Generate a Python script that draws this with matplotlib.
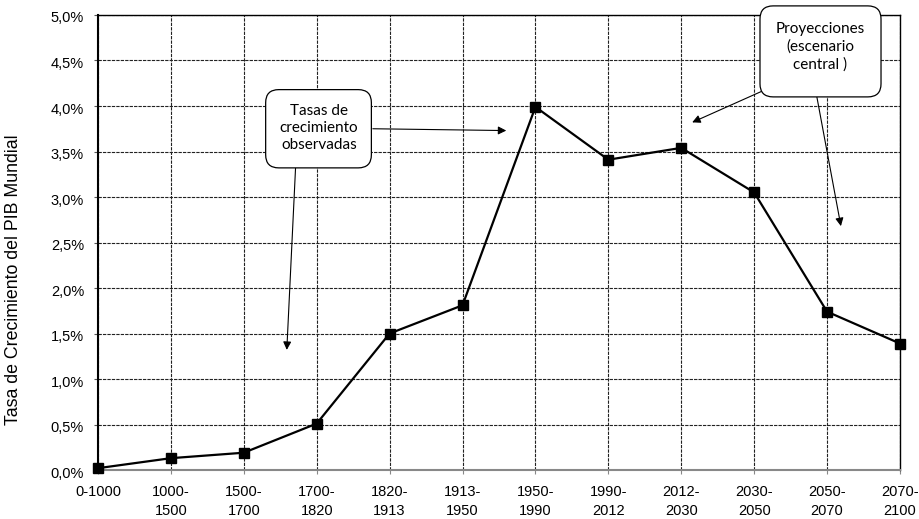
import numpy as np
import matplotlib.pyplot as plt
import matplotlib.transforms as mtransforms
from matplotlib.patches import FancyBboxPatch
from matplotlib.ticker import FuncFormatter

periodos = ['0-1000', '1000-\n1500', '1500-\n1700', '1700-\n1820', '1820-\n1913',
            '1913-\n1950', '1950-\n1990', '1990-\n2012', '2012-\n2030',
            '2030-\n2050', '2050-\n2070', '2070-\n2100']
crecimiento = [0.02, 0.13, 0.19, 0.51, 1.50, 1.81, 3.99, 3.41, 3.54, 3.05, 1.74, 1.39]

plt.rcParams['font.family'] = ['Liberation Sans', 'DejaVu Sans']

fig = plt.figure(figsize=(9.19, 5.19), dpi=100)
ax = fig.add_axes([0.1066, 0.0944, 0.8727, 0.8767])

x = np.arange(len(periodos))
ax.plot(x, crecimiento, color='black', lw=1.6, marker='s', ms=6.8,
        mfc='black', mec='black', zorder=5, clip_on=False)

ax.set_xlim(0, len(periodos) - 1)
ax.set_ylim(0, 5.0)
ax.set_yticks(np.arange(0, 5.01, 0.5))
ax.yaxis.set_major_formatter(FuncFormatter(lambda v, p: f'{v:.1f}%'.replace('.', ',')))
ax.set_xticks(x)
ax.set_xticklabels(periodos, fontsize=10.5, linespacing=1.4)
ax.tick_params(axis='y', labelsize=10.5, length=3, width=0.8, color='#555555', pad=7)
ax.tick_params(axis='x', length=3, width=0.8, color='#888888', pad=8)

# etiquetas del eje y un poco más abajo
desplaza = mtransforms.ScaledTranslation(0, -2 / 100, fig.dpi_scale_trans)
for etiqueta in ax.get_yticklabels():
    etiqueta.set_transform(etiqueta.get_transform() + desplaza)

ax.grid(True, color='#222222', lw=0.8, linestyle=(0, (3, 1)))
ax.set_axisbelow(True)

ax.spines['left'].set_linewidth(1.5)
ax.spines['left'].set_color('black')
ax.spines['bottom'].set_linewidth(1.5)
ax.spines['bottom'].set_color('#888888')
ax.spines['top'].set_linewidth(1.0)
ax.spines['right'].set_linewidth(1.0)

fig.text(14 / 919, 1 - 280 / 519, 'Tasa de Crecimiento del PIB Mundial',
         rotation=90, ha='center', va='center', fontsize=12.8)

# recuadros redondeados con texto
def recuadro(x0, x1, y0, y1, texto, cx, cy):
    caja = FancyBboxPatch((x0, y0), x1 - x0, y1 - y0,
                          boxstyle='round,pad=0,rounding_size=0.18',
                          mutation_aspect=0.80, fc='white', ec='black', lw=0.9,
                          zorder=6, clip_on=False)
    ax.add_patch(caja)
    ax.text(cx, cy, texto, ha='center', va='center', fontsize=11,
            family='Lato', linespacing=1.3, zorder=7, clip_on=False)

recuadro(2.30, 3.75, 3.32, 4.18, 'Tasas de\ncrecimiento\nobservadas', 3.03, 3.76)
recuadro(9.08, 10.74, 4.10, 5.10, 'Proyecciones\n(escenario\ncentral )', 9.91, 4.65)

flecha = dict(arrowstyle='-|>', color='black', lw=0.8, mutation_scale=12,
              shrinkA=0, shrinkB=0)
for (x0, y0), (x1, y1) in [((3.77, 3.75), (5.60, 3.73)),
                           ((2.71, 3.32), (2.59, 1.32)),
                           ((9.10, 4.16), (8.15, 3.82)),
                           ((9.86, 4.10), (10.19, 2.68))]:
    ax.annotate('', xy=(x1, y1), xytext=(x0, y0), arrowprops=flecha,
                annotation_clip=False, zorder=4)

fig.savefig('out.png', dpi=100)
